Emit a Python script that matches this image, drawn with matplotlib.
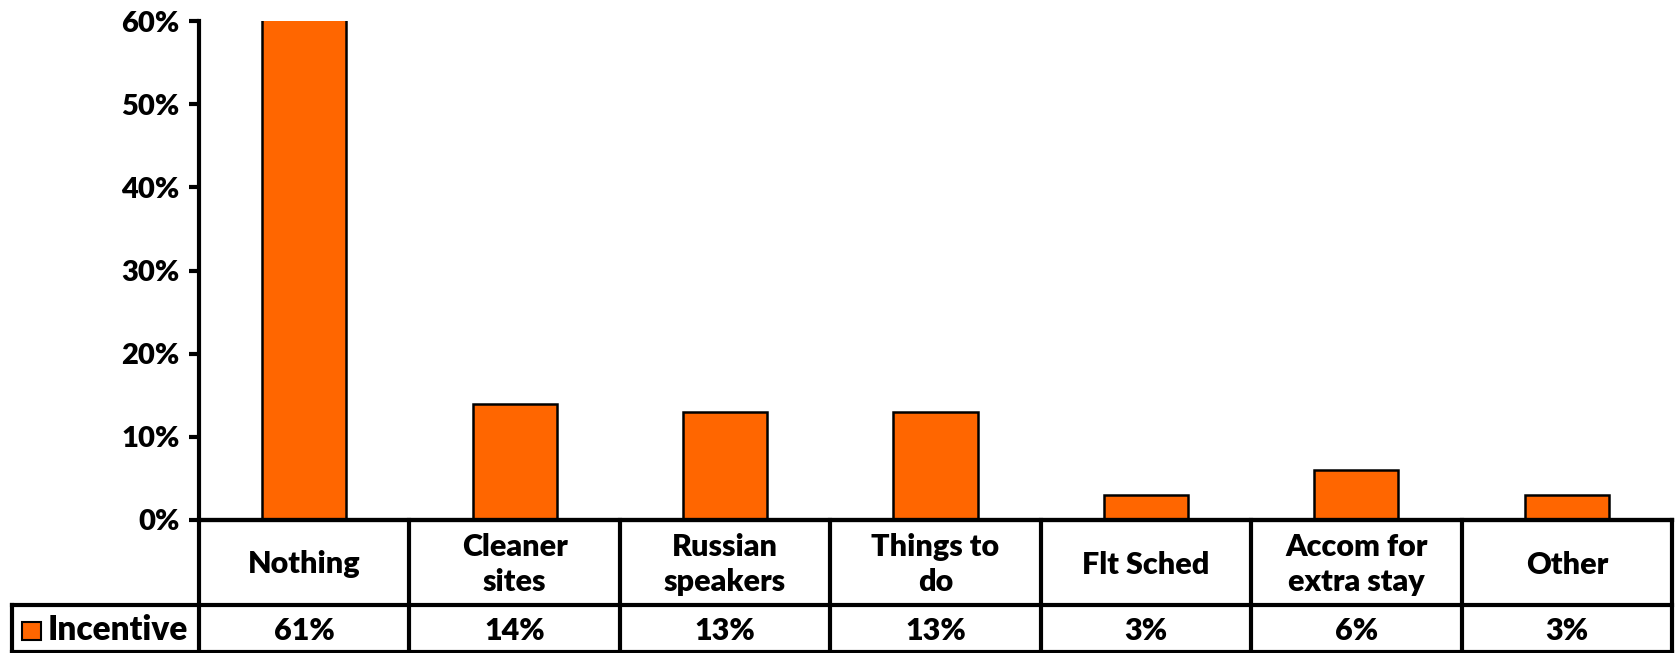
import matplotlib
matplotlib.use("Agg")
import matplotlib.pyplot as plt
from matplotlib.patches import Rectangle
from matplotlib.ticker import PercentFormatter

# Chart data
categories = ["Nothing", "Cleaner\nsites", "Russian\nspeakers", "Things to\ndo",
              "Flt Sched", "Accom for\nextra stay", "Other"]
incentive = [61, 14, 13, 13, 3, 6, 3]
series_name = "Incentive"
y_ticks = [0, 10, 20, 30, 40, 50, 60]

bar_color = "#FF6600"
W, H = 1677, 653

plt.rcParams['font.family'] = ['Lato', 'DejaVu Sans']
plt.rcParams['font.weight'] = 'heavy'

fig = plt.figure(figsize=(W / 100, H / 100), dpi=100)
ax_left, ax_right, ax_top, ax_bottom = 199, 1672, 21, 520
ax = fig.add_axes([ax_left / W, 1 - ax_bottom / H,
                   (ax_right - ax_left) / W, (ax_bottom - ax_top) / H])

x = list(range(len(categories)))
ax.bar(x, incentive, width=0.4, color=bar_color, edgecolor="black", linewidth=1.8)
ax.set_xlim(-0.5, len(categories) - 0.5)
ax.set_ylim(0, 60)
ax.set_yticks(y_ticks)
ax.yaxis.set_major_formatter(PercentFormatter(decimals=0))
ax.tick_params(axis="y", direction="out", length=7, width=3, labelsize=21, pad=7)
for lbl in ax.get_yticklabels():
    lbl.set_fontweight("heavy")
ax.set_xticks([])
for side in ["top", "right"]:
    ax.spines[side].set_visible(False)
ax.spines["left"].set_linewidth(3)
ax.spines["bottom"].set_linewidth(3)

# Data table under the chart (drawn in pixel-based fig coords)
def fy(py):
    return 1 - py / H

def fx(px):
    return px / W

lw = 3
header_bot = 605
table_bot = 652
left_cell = 12
col_w = (ax_right - ax_left) / len(categories)

lines = []
# horizontal lines
lines.append(([ax_left, ax_right], [ax_bottom, ax_bottom]))
lines.append(([left_cell, ax_right], [header_bot, header_bot]))
lines.append(([left_cell, ax_right], [table_bot, table_bot]))
# vertical lines
for i in range(len(categories) + 1):
    xp = ax_left + i * col_w
    lines.append(([xp, xp], [ax_bottom, table_bot]))
lines.append(([left_cell, left_cell], [header_bot, table_bot]))
for xs, ys in lines:
    fig.add_artist(plt.Line2D([fx(v) for v in xs], [fy(v) for v in ys],
                              color="black", linewidth=lw, solid_capstyle="projecting"))

for i, (cat, val) in enumerate(zip(categories, incentive)):
    cx = ax_left + (i + 0.5) * col_w
    fig.text(fx(cx), fy((ax_bottom + header_bot) / 2 + 2), cat, ha="center", va="center",
             fontsize=22, fontweight="heavy", linespacing=1.3)
    fig.text(fx(cx), fy((header_bot + table_bot) / 2 + 2), f"{val}%", ha="center",
             va="center", fontsize=22, fontweight="heavy")

# legend key in the row label cell
fig.add_artist(Rectangle((fx(22), fy(640)), fx(19), 18 / H, facecolor=bar_color,
                         edgecolor="black", linewidth=1.5))
fig.text(fx(48), fy((header_bot + table_bot) / 2 + 2), series_name, ha="left", va="center",
         fontsize=24, fontweight="heavy")

fig.savefig("out.png", dpi=100)
